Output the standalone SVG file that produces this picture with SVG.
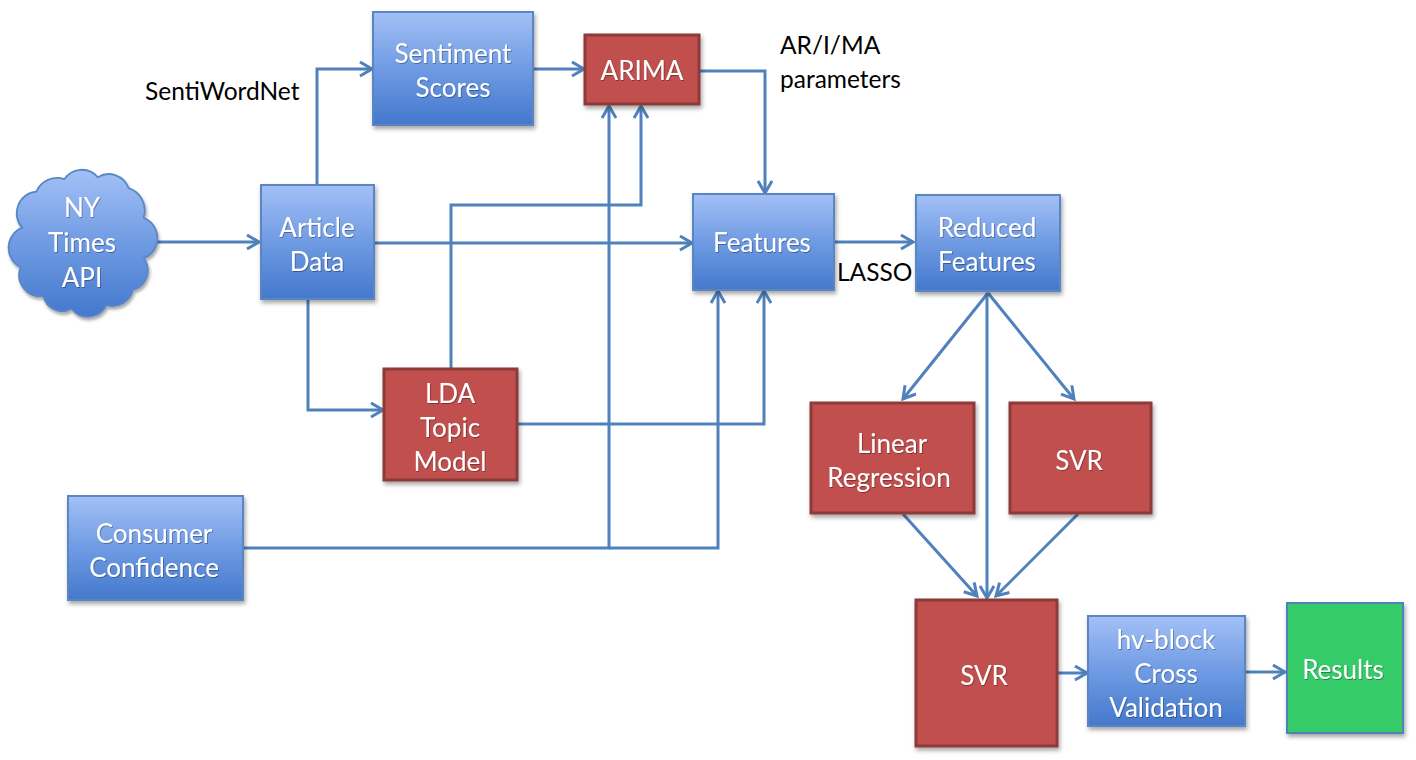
<svg xmlns="http://www.w3.org/2000/svg" width="1416" height="760" viewBox="0 0 1416 760">
<defs>
<linearGradient id="gBlue" x1="0" y1="0" x2="0" y2="1">
<stop offset="0" stop-color="#a3c0f6"/>
<stop offset="0.5" stop-color="#6f9be3"/>
<stop offset="1" stop-color="#4478cc"/>
</linearGradient>
<filter id="sh" x="-10%" y="-10%" width="125%" height="125%">
<feDropShadow dx="1.5" dy="3" stdDeviation="2" flood-color="#000" flood-opacity="0.35"/>
</filter>
<filter id="ts" x="-10%" y="-20%" width="120%" height="150%">
<feDropShadow dx="0.8" dy="1" stdDeviation="0.6" flood-color="#000" flood-opacity="0.35"/>
</filter>
<marker id="arr" markerUnits="userSpaceOnUse" markerWidth="18" markerHeight="20" refX="13" refY="8" orient="auto">
<path d="M1,1 L13,8 L1,15" fill="none" stroke="#4f81bd" stroke-width="3"/>
</marker>
</defs>
<style>
.blue{fill:url(#gBlue);stroke:#5a86c4;stroke-width:2;filter:url(#sh)}
.red{fill:#c0504d;stroke:#8c3a38;stroke-width:3;filter:url(#sh)}
.green{fill:#35cb67;stroke:#4f81bd;stroke-width:2;filter:url(#sh)}
.t{font-family:Lato,"Open Sans","Liberation Sans",sans-serif;font-size:26px;fill:#fff;text-anchor:middle;filter:url(#ts)}
.k{font-family:Lato,"Open Sans","Liberation Sans",sans-serif;font-size:24.5px;fill:#000}
.c{fill:none;stroke:#4f81bd;stroke-width:3}
.a{marker-end:url(#arr)}
</style>
<rect width="1416" height="760" fill="#fff"/>
<g id="connectors">
<path class="c a" d="M155,242 H259"/>
<path class="c a" d="M317,185 V69 H372"/>
<path class="c a" d="M533,69 H584"/>
<path class="c a" d="M699,71 H765 V193"/>
<path class="c a" d="M374,243 H692"/>
<path class="c a" d="M308,300 V410 H383"/>
<path class="c a" d="M451,368 V205 H641 V106"/>
<path class="c a" d="M243,548 H609 V106"/>
<path class="c a" d="M609,548 H718 V291"/>
<path class="c a" d="M517,424 H764 V291"/>
<path class="c a" d="M834,242 H913"/>
<path class="c a" d="M988,293 L903,399"/>
<path class="c a" d="M988,293 L1074,399"/>
<path class="c a" d="M987,293 V598"/>
<path class="c a" d="M903,514 L977,596"/>
<path class="c a" d="M1078,514 L996,596"/>
<path class="c a" d="M1057,673 H1087"/>
<path class="c a" d="M1245,672 H1285"/>
</g>
<g id="nytimes">
<path class="blue" transform="translate(82,243) scale(0.88,0.9) translate(-82,-243)" d="M14,226 A24,24 0 0 1 30,186 A26,26 0 0 1 62,172 A24,24 0 0 1 100,170 A24,24 0 0 1 135,182 A26,26 0 0 1 152,215 A24,24 0 0 1 152,260 A22,22 0 0 1 140,295 A24,24 0 0 1 110,312 A24,24 0 0 1 70,316 A22,22 0 0 1 38,302 A24,24 0 0 1 12,270 A24,24 0 0 1 14,226 Z"/>
<text class="t" x="82" y="217">NY</text>
<text class="t" x="82" y="252">Times</text>
<text class="t" x="82" y="287">API</text>
</g>
<g id="article">
<rect class="blue" x="261" y="185" width="113" height="114"/>
<text class="t" x="317" y="237">Article</text>
<text class="t" x="317" y="271">Data</text>
</g>
<g id="sentiment">
<rect class="blue" x="373" y="12" width="160" height="113"/>
<text class="t" x="453" y="63">Sentiment</text>
<text class="t" x="453" y="97">Scores</text>
</g>
<g id="arima">
<rect class="red" x="585" y="35" width="114" height="69"/>
<text class="t" x="642" y="80">ARIMA</text>
</g>
<g id="features">
<rect class="blue" x="693" y="194" width="141" height="96"/>
<text class="t" x="762" y="252">Features</text>
</g>
<g id="reduced">
<rect class="blue" x="916" y="195" width="144" height="96"/>
<text class="t" x="987" y="237">Reduced</text>
<text class="t" x="987" y="271">Features</text>
</g>
<g id="lda">
<rect class="red" x="384" y="369" width="133" height="111"/>
<text class="t" x="450" y="403">LDA</text>
<text class="t" x="450" y="437">Topic</text>
<text class="t" x="450" y="471">Model</text>
</g>
<g id="consumer">
<rect class="blue" x="68" y="496" width="175" height="104"/>
<text class="t" x="154" y="543">Consumer</text>
<text class="t" x="154" y="577">Confidence</text>
</g>
<g id="linreg">
<rect class="red" x="811" y="403" width="163" height="110"/>
<text class="t" x="892" y="453">Linear</text>
<text class="t" x="889" y="487">Regression</text>
</g>
<g id="svr1">
<rect class="red" x="1010" y="403" width="141" height="110"/>
<text class="t" x="1079" y="470">SVR</text>
</g>
<g id="svr2">
<rect class="red" x="916" y="600" width="141" height="146"/>
<text class="t" x="984" y="685">SVR</text>
</g>
<g id="hvblock">
<rect class="blue" x="1088" y="616" width="157" height="110"/>
<text class="t" x="1166" y="649">hv-block</text>
<text class="t" x="1166" y="683">Cross</text>
<text class="t" x="1166" y="717">Validation</text>
</g>
<g id="results">
<rect class="green" x="1287" y="603" width="116" height="130"/>
<text class="t" x="1343" y="679">Results</text>
</g>
<g id="labels">
<text class="k" x="145" y="100">SentiWordNet</text>
<text class="k" x="780" y="54">AR/I/MA</text>
<text class="k" x="780" y="88">parameters</text>
<text class="k" x="837" y="281">LASSO</text>
</g>
</svg>
